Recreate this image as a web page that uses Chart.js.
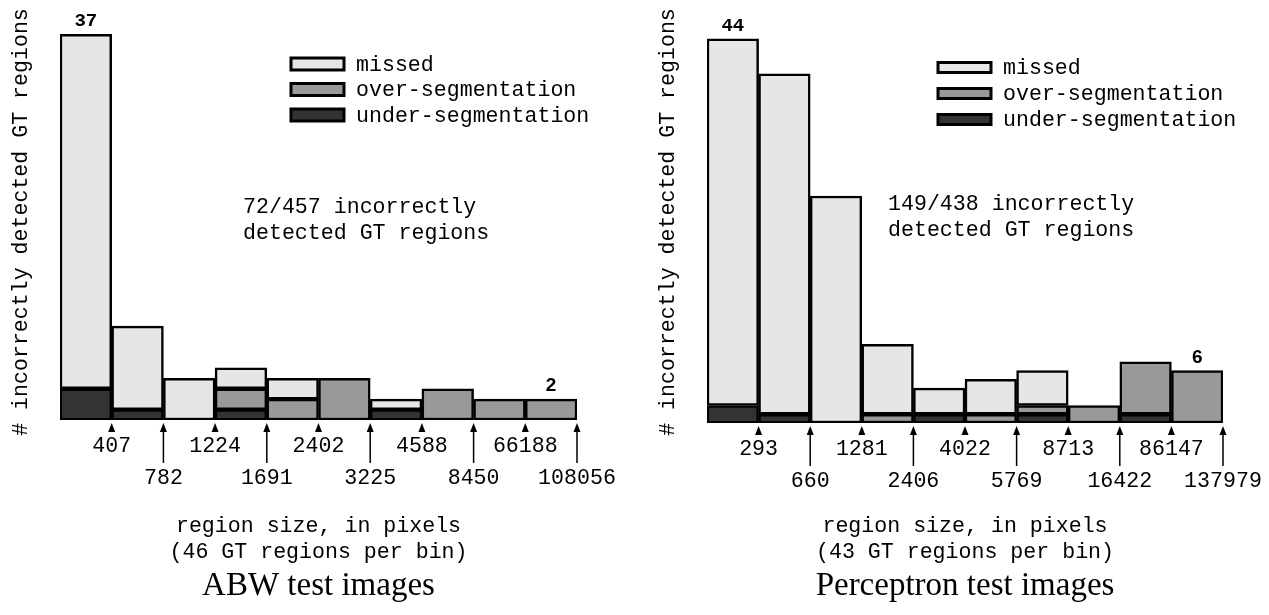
<!DOCTYPE html>
<html>
<head>
<meta charset="utf-8">
<script src="https://cdn.jsdelivr.net/npm/chart.js@4"></script>
<style>
  html, body { margin: 0; padding: 0; background: #fff; }
  body { position: relative; width: 1269px; height: 615px; overflow: hidden; }
  canvas { position: absolute; top: 0; }
  #abw { left: 0; }
  #perceptron { left: 647px; }
</style>
</head>
<body>
<canvas id="abw" width="640" height="615"></canvas>
<canvas id="perceptron" width="622" height="615"></canvas>
<script>
// upper edge of each bin (region size in pixels)
const abwEdges = [407, 782, 1224, 1691, 2402, 3225, 4588, 8450, 66188, 108056];
const abwMissed = [34, 8, 4, 2, 2, 0, 1, 0, 0, 0];
const abwOver   = [0, 0, 0, 2, 2, 4, 0, 3, 2, 2];
const abwUnder  = [3, 1, 0, 1, 0, 0, 1, 0, 0, 0];

const perEdges = [293, 660, 1281, 2406, 4022, 5769, 8713, 16422, 86147, 137979];
const perMissed = [42, 39, 26, 8, 3, 4, 4, 0, 0, 0];
const perOver   = [0, 0, 0, 1, 0, 1, 1, 2, 6, 6];
const perUnder  = [2, 1, 0, 0, 1, 0, 1, 0, 1, 0];

const MONO = '"Liberation Mono", "Courier New", monospace';
const SERIF = '"Liberation Serif", "Times New Roman", serif';

// everything that is not a bar: labels, arrows, legend, titles
const figure = {
  id: 'figure',
  afterDraw(chart, args, o) {
    const ctx = chart.ctx;
    const x = chart.scales.x;
    const area = chart.chartArea;
    const step = x.getPixelForValue(1) - x.getPixelForValue(0);
    const base = area.bottom;
    ctx.save();
    ctx.fillStyle = '#000';
    ctx.strokeStyle = '#000';

    // arrows + edge labels
    ctx.font = '21.6px ' + MONO;
    ctx.textAlign = 'center';
    ctx.textBaseline = 'middle';
    chart.data.labels.forEach((lab, i) => {
      const px = x.getPixelForValue(i) + step / 2;
      const long = i % 2 === 1;
      const tip = base + 3;
      ctx.beginPath();
      ctx.moveTo(px, tip);
      ctx.lineTo(px - 3.5, tip + 9);
      ctx.lineTo(px + 3.5, tip + 9);
      ctx.closePath();
      ctx.fill();
      if (long) {
        ctx.lineWidth = 1.5;
        ctx.beginPath();
        ctx.moveTo(px, tip + 8);
        ctx.lineTo(px, base + 43);
        ctx.stroke();
      }
      ctx.fillText(lab, px, long ? base + 58 : base + 26);
    });

    // totals above the marked bars
    const sets = chart.data.datasets;
    o.marks.forEach(m => {
      const total = sets.reduce((s, d) => s + d.data[m.bin], 0);
      const px = x.getPixelForValue(m.bin);
      const py = chart.scales.y.getPixelForValue(total);
      ctx.font = 'bold 19px ' + m.font;
      ctx.fillText(String(total), px, py - 13);
    });

    // legend (top of stack first)
    ctx.textAlign = 'left';
    ctx.font = '21.6px ' + MONO;
    [...sets].reverse().forEach((d, k) => {
      const cy = o.legendY[k];
      ctx.fillStyle = d.backgroundColor;
      ctx.fillRect(291, cy - o.boxH / 2, 53, o.boxH);
      ctx.lineWidth = 3;
      ctx.strokeRect(291, cy - o.boxH / 2, 53, o.boxH);
      ctx.fillStyle = '#000';
      ctx.fillText(d.label, 356, cy + 1);
    });

    // note
    o.note.forEach((line, k) => ctx.fillText(line, o.noteX, o.noteY + k * 26));

    // x title
    const cx = (area.left + area.right) / 2;
    ctx.textAlign = 'center';
    ctx.fillText('region size, in pixels', cx, 526);
    ctx.fillText(o.perBin, cx, 552);
    ctx.font = '33px ' + SERIF;
    ctx.fillText(o.title, cx, 586);

    // y title
    ctx.font = '21.6px ' + MONO;
    ctx.translate(21, 222);
    ctx.rotate(-Math.PI / 2);
    ctx.fillText('# incorrectly detected GT regions', 0, 0);
    ctx.restore();
  }
};

function makeChart(id, edges, missed, over, under, cfg) {
  const bar = (label, data, color) => ({
    label, data,
    backgroundColor: color,
    borderColor: '#000',
    borderWidth: 2.5,
    borderSkipped: false,
    barPercentage: 1,
    categoryPercentage: 1
  });
  return new Chart(document.getElementById(id), {
    type: 'bar',
    data: {
      labels: edges.map(String),
      datasets: [
        bar('under-segmentation', under, '#333333'),
        bar('over-segmentation', over, '#999999'),
        bar('missed', missed, '#e6e6e6')
      ]
    },
    options: {
      responsive: false,
      animation: false,
      layout: { padding: cfg.padding },
      scales: {
        x: { stacked: true, display: false },
        y: { stacked: true, display: false, min: 0, max: cfg.max }
      },
      plugins: {
        legend: { display: false },
        tooltip: { enabled: false },
        figure: cfg.figure
      }
    },
    plugins: [figure]
  });
}

makeChart('abw', abwEdges, abwMissed, abwOver, abwUnder, {
  padding: { left: 60, right: 63, top: 3, bottom: 195 },
  max: 40,
  figure: {
    marks: [{ bin: 0, font: MONO }, { bin: 9, font: '"Liberation Sans", Arial, sans-serif' }],
    legendY: [64, 89.5, 115],
    boxH: 12,
    note: ['72/457 incorrectly', 'detected GT regions'],
    noteX: 243, noteY: 207,
    perBin: '(46 GT regions per bin)',
    title: 'ABW test images'
  }
});

makeChart('perceptron', perEdges, perMissed, perOver, perUnder, {
  padding: { left: 60, right: 46, top: 4, bottom: 192 },
  max: 48,
  figure: {
    marks: [{ bin: 0, font: MONO }, { bin: 9, font: '"Liberation Sans", Arial, sans-serif' }],
    legendY: [67.5, 93.5, 119.5],
    boxH: 10,
    note: ['149/438 incorrectly', 'detected GT regions'],
    noteX: 241, noteY: 204,
    perBin: '(43 GT regions per bin)',
    title: 'Perceptron test images'
  }
});
</script>
</body>
</html>
